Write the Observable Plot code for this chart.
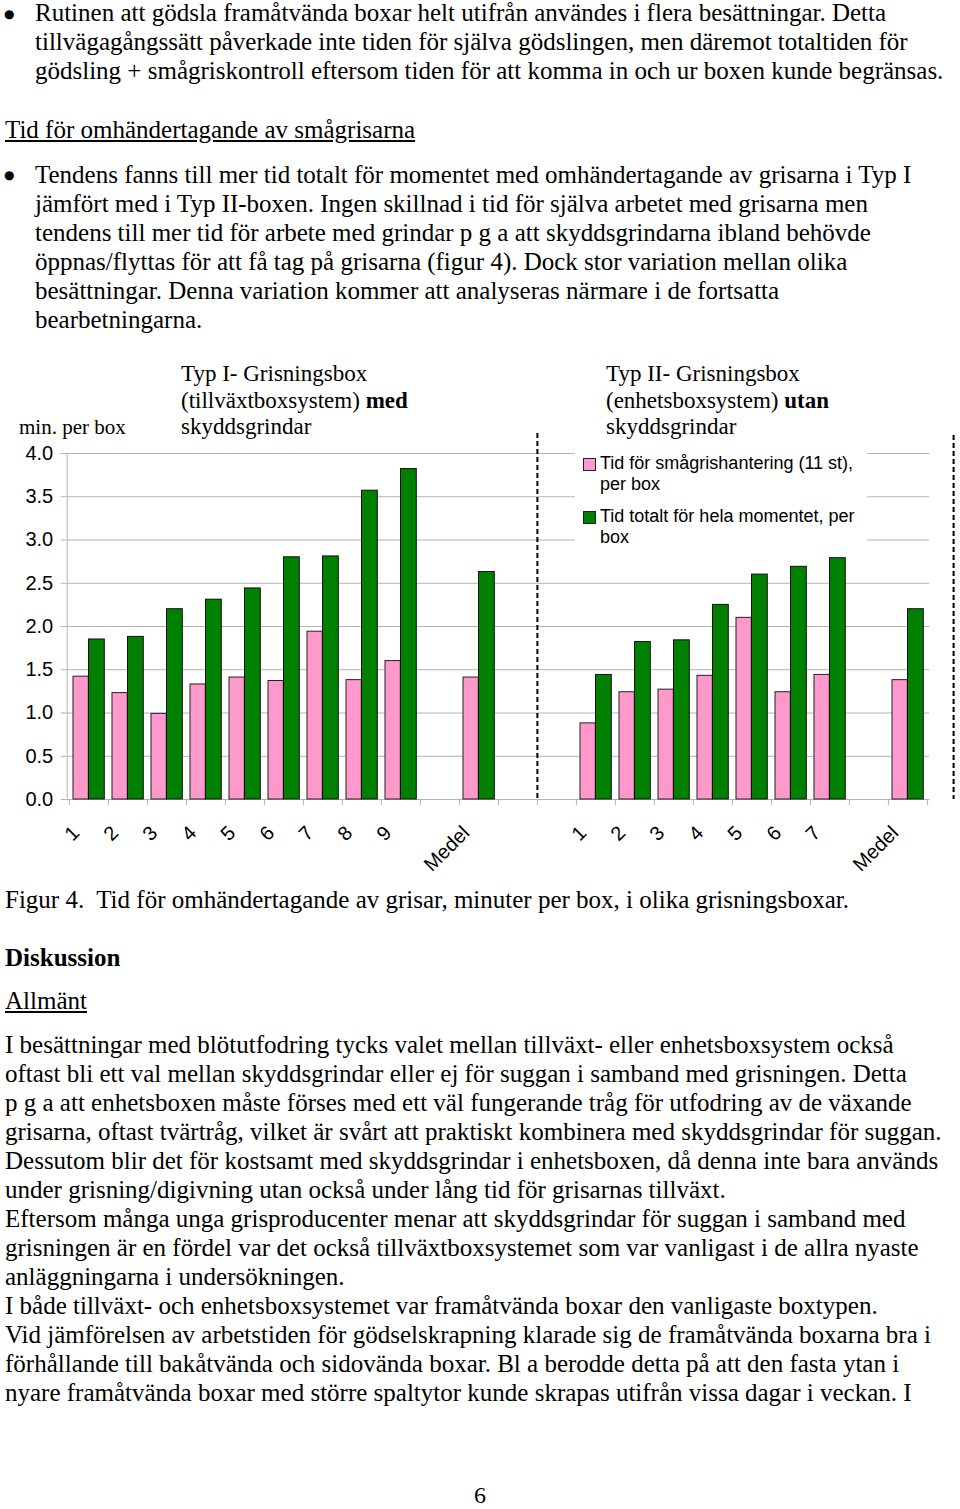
<!DOCTYPE html>
<html><head><meta charset="utf-8">
<script src="https://cdn.jsdelivr.net/npm/d3@7"></script>
<script src="https://cdn.jsdelivr.net/npm/@observablehq/plot@0.6"></script>
<style>
body{margin:0;background:#fff;}
#page{position:relative;width:960px;height:1509px;overflow:hidden;font-family:"Liberation Serif","Times New Roman",serif;color:#000;background:#fff;}
.t{position:absolute;white-space:nowrap;font-size:25px;line-height:29px;}
.bul{position:absolute;font-family:"DejaVu Sans",sans-serif;font-size:12px;line-height:14px;}
.hd{position:absolute;white-space:nowrap;font-size:23px;line-height:26.5px;}
#chart{position:absolute;left:0;top:440px;}
#legend{position:absolute;left:575px;top:445px;width:292px;height:102px;background:#fff;font-family:"Liberation Sans",Arial,sans-serif;font-size:18px;line-height:21px;}
.li{position:absolute;left:25px;white-space:nowrap;}
.sw{position:absolute;left:8px;width:11px;height:11px;border:1px solid #222;}
</style></head>
<body>
<div id="page">
  <div class="bul" style="left:4px;top:7px;">●</div>
  <div class="t" style="left:35px;top:-2px;">Rutinen att gödsla framåtvända boxar helt utifrån användes i flera besättningar. Detta<br>tillvägagångssätt påverkade inte tiden för själva gödslingen, men däremot totaltiden för<br>gödsling + smågriskontroll eftersom tiden för att komma in och ur boxen kunde begränsas.</div>
  <div class="t" style="left:5px;top:115px;text-decoration:underline;">Tid för omhändertagande av smågrisarna</div>
  <div class="bul" style="left:4px;top:168px;">●</div>
  <div class="t" style="left:35px;top:160px;">Tendens fanns till mer tid totalt för momentet med omhändertagande av grisarna i Typ I<br>jämfört med i Typ II-boxen. Ingen skillnad i tid för själva arbetet med grisarna men<br>tendens till mer tid för arbete med grindar p g a att skyddsgrindarna ibland behövde<br>öppnas/flyttas för att få tag på grisarna (figur 4). Dock stor variation mellan olika<br>besättningar. Denna variation kommer att analyseras närmare i de fortsatta<br>bearbetningarna.</div>

  <div class="hd" style="left:181px;top:361px;">Typ I- Grisningsbox<br>(tillväxtboxsystem) <b>med</b><br>skyddsgrindar</div>
  <div class="hd" style="left:606px;top:361px;">Typ II- Grisningsbox<br>(enhetsboxsystem) <b>utan</b><br>skyddsgrindar</div>
  <div class="hd" style="left:19px;top:414px;font-size:21px;">min. per box</div>

  <div id="chart"></div>
  <div id="legend"></div>

  <div class="t" style="left:5px;top:885px;">Figur 4.&nbsp; Tid för omhändertagande av grisar, minuter per box, i olika grisningsboxar.</div>
  <div class="t" style="left:5px;top:943px;font-weight:bold;">Diskussion</div>
  <div class="t" style="left:5px;top:986px;text-decoration:underline;">Allmänt</div>
  <div class="t" style="left:5px;top:1030px;">I besättningar med blötutfodring tycks valet mellan tillväxt- eller enhetsboxsystem också<br>oftast bli ett val mellan skyddsgrindar eller ej för suggan i samband med grisningen. Detta<br>p g a att enhetsboxen måste förses med ett väl fungerande tråg för utfodring av de växande<br>grisarna, oftast tvärtråg, vilket är svårt att praktiskt kombinera med skyddsgrindar för suggan.<br>Dessutom blir det för kostsamt med skyddsgrindar i enhetsboxen, då denna inte bara används<br>under grisning/digivning utan också under lång tid för grisarnas tillväxt.<br>Eftersom många unga grisproducenter menar att skyddsgrindar för suggan i samband med<br>grisningen är en fördel var det också tillväxtboxsystemet som var vanligast i de allra nyaste<br>anläggningarna i undersökningen.<br>I både tillväxt- och enhetsboxsystemet var framåtvända boxar den vanligaste boxtypen.<br>Vid jämförelsen av arbetstiden för gödselskrapning klarade sig de framåtvända boxarna bra i<br>förhållande till bakåtvända och sidovända boxar. Bl a berodde detta på att den fasta ytan i<br>nyare framåtvända boxar med större spaltytor kunde skrapas utifrån vissa dagar i veckan. I</div>
  <div class="t" style="left:474px;top:1485px;font-size:24px;line-height:20px;">6</div>
</div>
<script>
// ---- data ----
const seriesNames = ["Tid för smågrishantering (11 st), per box", "Tid totalt för hela momentet, per box"];
const seriesColors = ["#ff99cc", "#008000"];
const typ1Boxes = ["1","2","3","4","5","6","7","8","9"];
const typ1Pink  = [1.42, 1.23, 0.99, 1.33, 1.41, 1.37, 1.94, 1.38, 1.60];
const typ1Green = [1.85, 1.88, 2.20, 2.31, 2.44, 2.80, 2.81, 3.57, 3.82];
const typ1MedelPink = 1.41, typ1MedelGreen = 2.63;
const typ2Boxes = ["1","2","3","4","5","6","7"];
const typ2Pink  = [0.88, 1.24, 1.27, 1.43, 2.10, 1.24, 1.44];
const typ2Green = [1.44, 1.82, 1.84, 2.25, 2.60, 2.69, 2.79];
const typ2MedelPink = 1.38, typ2MedelGreen = 2.20;
const medelLabel = "Medel";
const yTicks = [0, 0.5, 1, 1.5, 2, 2.5, 3, 3.5, 4];

// ---- build slots (category positions incl. empty gaps) ----
const slots = [];
typ1Boxes.forEach((b, i) => slots.push({key: "I-" + b, label: b, pink: typ1Pink[i], green: typ1Green[i]}));
slots.push({key: "I-gap", label: "", pink: null, green: null});
slots.push({key: "I-Medel", label: medelLabel, pink: typ1MedelPink, green: typ1MedelGreen});
slots.push({key: "gap-a", label: "", pink: null, green: null});
slots.push({key: "gap-b", label: "", pink: null, green: null});
typ2Boxes.forEach((b, i) => slots.push({key: "II-" + b, label: b, pink: typ2Pink[i], green: typ2Green[i]}));
slots.push({key: "II-gap", label: "", pink: null, green: null});
slots.push({key: "II-Medel", label: medelLabel, pink: typ2MedelPink, green: typ2MedelGreen});

const keys = slots.map(d => d.key);
const labelOf = new Map(slots.map(d => [d.key, d.label]));
const filled = slots.filter(d => d.pink != null);

const W = 960, H = 440, ML = 66.7, MR = 30.7, MT = 13, MB = 81;
const bw = (W - ML - MR) / keys.length;
const gray = "#b4b4b4";

const chart = Plot.plot({
  width: W, height: H,
  marginLeft: ML, marginRight: MR, marginTop: MT, marginBottom: MB,
  style: {fontFamily: "'Liberation Sans', Arial, sans-serif", background: "transparent", color: "#000", overflow: "visible"},
  x: {type: "band", domain: keys, padding: 0, axis: null},
  y: {domain: [0, 4], axis: null},
  marks: [
    Plot.gridY(yTicks, {stroke: gray, strokeOpacity: 1}),
    Plot.frame({anchor: "left", stroke: gray}),
    Plot.ruleY([0], {stroke: gray}),
    Plot.axisY(yTicks, {tickFormat: d3.format(".1f"), tickSize: 6, tickPadding: 8, fontSize: 20, stroke: gray, fill: "#000", label: null}),
    Plot.axisX(keys, {tickFormat: () => "", tickSize: 6, dx: -bw / 2, stroke: gray, label: null}),
    Plot.axisX([keys[keys.length - 1]], {tickFormat: () => "", tickSize: 6, dx: bw / 2, stroke: gray, label: null}),
    Plot.axisX(slots.filter(d => d.label).map(d => d.key), {tickFormat: k => labelOf.get(k), tickRotate: -45, tickSize: 0, tickPadding: 30, dx: -13, fontSize: 20, fill: "#000", label: null}),
    Plot.barY(filled, {x: "key", y: "pink", fill: seriesColors[0], stroke: "#222", strokeWidth: 1, insetLeft: 4, insetRight: bw - 4 - 15.5}),
    Plot.barY(filled, {x: "key", y: "green", fill: seriesColors[1], stroke: "#111", strokeWidth: 1, insetLeft: 19.5, insetRight: 3.7}),
    Plot.ruleX(["gap-b"], {dx: -bw / 2, stroke: "#000", strokeWidth: 2, strokeDasharray: "5,3", insetTop: -20}),
    Plot.ruleX(["II-Medel"], {dx: bw / 2 + 26, stroke: "#000", strokeWidth: 2, strokeDasharray: "5,3", insetTop: -18})
  ]
});
document.getElementById("chart").appendChild(chart);

// ---- legend ----
const legend = document.getElementById("legend");
const legendLines = [["Tid för smågrishantering (11 st),", "per box"], ["Tid totalt för hela momentet, per", "box"]];
legendLines.forEach((lines, i) => {
  const top = 7.5 + i * 53;
  const sw = document.createElement("div");
  sw.className = "sw";
  sw.style.top = (top + 5) + "px";
  sw.style.background = seriesColors[i];
  sw.title = seriesNames[i];
  legend.appendChild(sw);
  const tx = document.createElement("div");
  tx.className = "li";
  tx.style.top = top + "px";
  tx.innerHTML = lines.join("<br>");
  legend.appendChild(tx);
});
</script>
</body></html>
